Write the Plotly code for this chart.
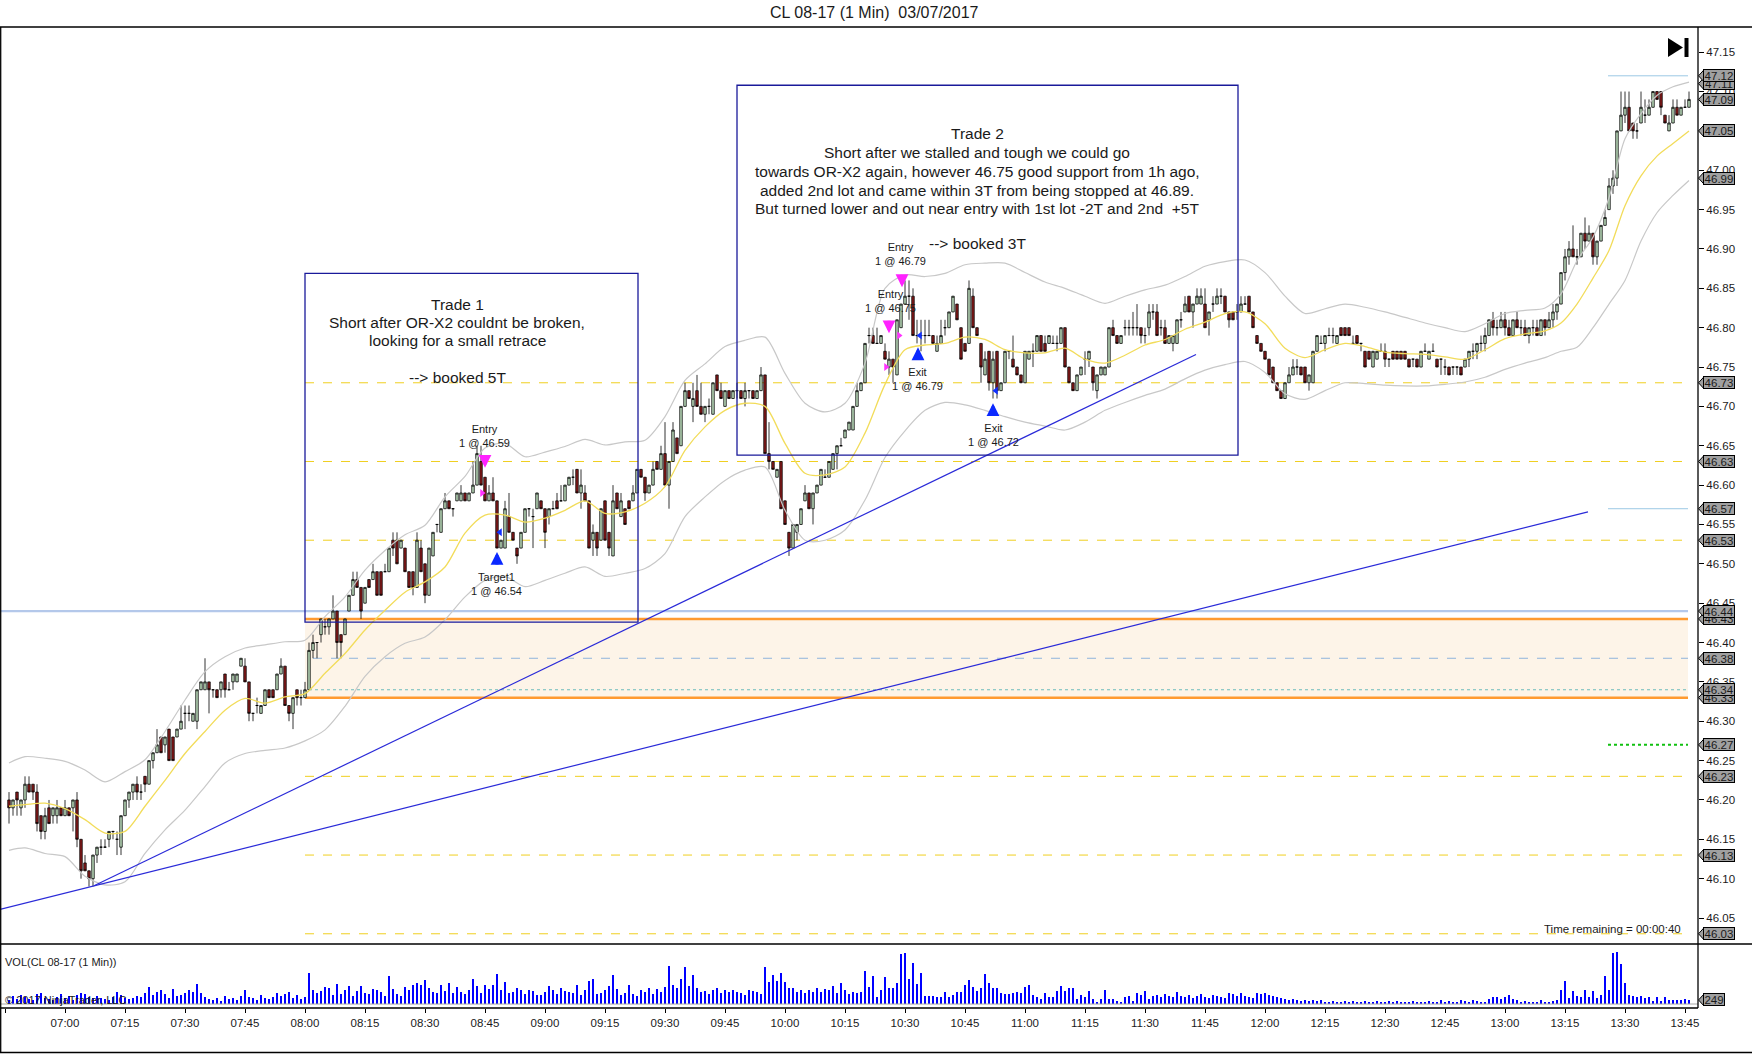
import pandas as pd
import plotly.graph_objects as go

W, H = 1752, 1054
day = "2017-03-07 "
font = "Liberation Sans, Arial, sans-serif"

# 1 min bars from 06:46, values in cents above 46.00
opens = [
    20, 19, 21, 19, 20, 22, 22, 21, 18, 16,   # 06:46
    19, 18, 18, 19, 18, 19, 19, 20, 15, 12,   # 06:56
    11, 10, 13, 14, 14, 15, 16, 15, 14, 18,   # 07:06
    20, 21, 22, 21, 23, 22, 25, 26, 28, 27,   # 07:16
    29, 28, 28, 29, 31, 31, 30, 30, 34, 34,   # 07:26
    35, 34, 34, 34, 36, 34, 35, 35, 37, 37,   # 07:36
    35, 31, 32, 31, 32, 34, 34, 34, 36, 37,   # 07:46
    32, 31, 34, 33, 33, 34, 39, 40, 41, 42,   # 07:56
    42, 43, 44, 41, 41, 44, 46, 48, 47, 45,   # 08:06
    48, 48, 49, 49, 49, 49, 53, 53, 52, 52,   # 08:16
    49, 49, 47, 52, 50, 46, 51, 55, 54, 57,   # 08:26
    58, 57, 58, 58, 59, 58, 59, 60, 63, 61,   # 08:36
    58, 59, 58, 52, 52, 56, 54, 52, 52, 54,   # 08:46
    57, 56, 57, 58, 57, 56, 57, 58, 58, 58,   # 08:56
    60, 61, 62, 59, 59, 58, 53, 54, 53, 58,   # 09:06
    54, 51, 59, 56, 57, 58, 58, 59, 62, 61,   # 09:16
    59, 60, 63, 62, 64, 60, 63, 66, 65, 70,   # 09:26
    72, 70, 72, 70, 69, 70, 69, 74, 72, 70,   # 09:36
    72, 71, 72, 72, 71, 72, 72, 71, 72, 74,   # 09:46
    64, 63, 61, 63, 58, 54, 52, 54, 55, 58,   # 09:56
    59, 57, 59, 60, 61, 61, 62, 64, 65, 66,   # 10:06
    67, 67, 70, 72, 73, 79, 79, 78, 78, 77,   # 10:16
    75, 76, 74, 80, 83, 84, 84, 79, 79, 79,   # 10:26
    79, 79, 77, 78, 80, 80, 82, 83, 80, 78,   # 10:36
    78, 84, 80, 78, 74, 77, 73, 77, 72, 73,   # 10:46
    77, 76, 75, 74, 73, 76, 77, 77, 79, 78,   # 10:56
    78, 78, 78, 78, 80, 75, 73, 72, 74, 76,   # 11:06
    76, 75, 72, 74, 74, 75, 80, 79, 78, 80,   # 11:16
    80, 80, 80, 80, 79, 80, 82, 82, 80, 80,   # 11:26
    78, 78, 78, 81, 82, 84, 82, 83, 83, 83,   # 11:36
    81, 83, 83, 84, 84, 82, 82, 82, 82, 83,   # 11:46
    84, 82, 79, 78, 77, 76, 75, 73, 72, 71,   # 11:56
    73, 74, 75, 75, 75, 73, 73, 77, 78, 78,   # 12:06
    79, 79, 78, 80, 80, 80, 78, 79, 78, 77,   # 12:16
    77, 75, 76, 77, 77, 76, 77, 77, 77, 77,   # 12:26
    76, 76, 76, 75, 77, 76, 77, 76, 76, 75,   # 12:36
    75, 75, 75, 75, 75, 76, 77, 77, 78, 78,   # 12:46
    79, 81, 80, 80, 81, 80, 79, 81, 80, 80,   # 12:56
    79, 80, 80, 79, 81, 80, 81, 82, 83, 87,   # 13:06
    89, 90, 89, 89, 92, 91, 92, 89, 91, 93,   # 13:16
    95, 98, 99, 105, 107, 108, 106, 105, 106, 107,   # 13:26
    107, 108, 110, 110, 107, 105, 106, 108, 107, 108,  # 13:36
    108,                                       # 13:46
]
highs = [
    21, 20, 21, 20, 23, 23, 22, 22, 18, 19,
    20, 19, 20, 19, 20, 19, 20, 21, 15, 13,
    11, 13, 14, 15, 15, 16, 16, 16, 18, 20,
    21, 22, 23, 22, 23, 25, 26, 29, 28, 28,
    29, 28, 29, 32, 32, 32, 31, 34, 35, 38,
    35, 34, 34, 35, 36, 35, 36, 36, 38, 38,
    35, 31, 33, 32, 34, 34, 34, 36, 38, 37,
    32, 33, 34, 34, 35, 40, 41, 40, 43, 43,
    43, 46, 44, 41, 43, 46, 49, 49, 47, 47,
    48, 50, 49, 49, 50, 52, 54, 54, 53, 52,
    49, 49, 54, 53, 50, 52, 54, 55, 57, 59,
    58, 57, 59, 60, 59, 59, 63, 65, 65, 61,
    60, 61, 58, 53, 58, 59, 54, 52, 54, 57,
    57, 57, 59, 58, 57, 57, 58, 59, 60, 60,
    61, 62, 62, 62, 60, 58, 55, 54, 57, 58,
    54, 60, 59, 59, 57, 58, 60, 62, 62, 61,
    60, 63, 63, 65, 68, 63, 68, 66, 70, 73,
    72, 73, 74, 73, 70, 71, 73, 74, 73, 72,
    72, 72, 73, 72, 73, 72, 72, 72, 75, 74,
    68, 63, 62, 63, 58, 54, 55, 55, 57, 60,
    59, 59, 60, 62, 62, 63, 64, 65, 66, 67,
    68, 70, 73, 73, 78, 80, 80, 80, 79, 78,
    77, 76, 81, 83, 86, 86, 85, 81, 81, 81,
    81, 79, 79, 81, 81, 82, 84, 83, 80, 78,
    86, 85, 80, 78, 77, 77, 77, 77, 73, 77,
    77, 79, 75, 74, 77, 77, 78, 79, 79, 79,
    79, 79, 79, 80, 80, 75, 73, 74, 75, 77,
    77, 75, 74, 75, 75, 80, 81, 79, 79, 81,
    81, 82, 83, 80, 80, 83, 83, 83, 81, 81,
    79, 79, 81, 82, 84, 84, 83, 85, 85, 85,
    82, 84, 85, 85, 84, 82, 82, 83, 84, 84,
    84, 82, 79, 78, 77, 76, 75, 73, 72, 73,
    75, 76, 76, 75, 75, 74, 77, 79, 79, 79,
    80, 80, 79, 80, 80, 80, 79, 79, 78, 77,
    77, 77, 77, 78, 78, 76, 77, 77, 77, 77,
    76, 76, 76, 77, 78, 77, 78, 76, 76, 76,
    75, 75, 75, 75, 76, 77, 78, 78, 79, 80,
    81, 82, 81, 82, 82, 81, 81, 82, 81, 81,
    80, 81, 81, 81, 81, 82, 83, 83, 87, 90,
    91, 93, 90, 92, 94, 93, 92, 91, 93, 95,
    99, 100, 105, 110, 110, 110, 106, 106, 110, 109,
    109, 110, 110, 110, 107, 107, 109, 109, 108, 109,
    110,
]
lows = [
    17, 18, 18, 18, 19, 21, 20, 16, 15, 15,
    17, 17, 17, 18, 18, 18, 16, 14, 10, 11,
    9, 9, 12, 13, 14, 14, 15, 13, 13, 18,
    19, 20, 20, 20, 21, 22, 24, 26, 26, 26,
    25, 25, 28, 29, 29, 30, 30, 29, 34, 34,
    31, 33, 33, 33, 33, 34, 34, 35, 37, 35,
    30, 30, 31, 31, 32, 33, 33, 34, 36, 32,
    30, 29, 32, 32, 33, 34, 38, 38, 40, 41,
    41, 43, 38, 38, 41, 44, 46, 47, 43, 45,
    47, 48, 46, 46, 49, 49, 51, 50, 52, 49,
    47, 46, 47, 49, 45, 46, 51, 54, 54, 57,
    57, 56, 58, 58, 58, 58, 59, 60, 60, 58,
    58, 58, 52, 52, 52, 54, 53, 50, 52, 54,
    56, 52, 57, 57, 52, 55, 57, 57, 58, 58,
    60, 60, 59, 57, 58, 52, 51, 51, 53, 53,
    51, 51, 57, 56, 55, 57, 58, 59, 61, 58,
    59, 60, 62, 62, 60, 57, 63, 64, 65, 70,
    71, 68, 70, 69, 68, 69, 69, 72, 71, 70,
    71, 71, 71, 71, 70, 71, 71, 71, 72, 64,
    62, 62, 61, 57, 55, 51, 52, 53, 55, 58,
    57, 55, 59, 60, 61, 61, 62, 62, 65, 66,
    67, 67, 70, 72, 73, 78, 78, 78, 78, 76,
    74, 73, 74, 80, 83, 81, 79, 78, 77, 78,
    79, 78, 77, 78, 79, 80, 82, 81, 76, 77,
    78, 80, 79, 73, 74, 72, 71, 71, 72, 73,
    76, 75, 74, 73, 73, 76, 75, 77, 77, 77,
    78, 78, 77, 78, 75, 73, 72, 72, 74, 74,
    75, 72, 71, 74, 74, 75, 79, 78, 78, 79,
    79, 79, 79, 78, 78, 79, 81, 79, 79, 78,
    78, 77, 78, 80, 82, 82, 80, 83, 83, 80,
    79, 82, 83, 83, 82, 80, 81, 81, 82, 83,
    82, 80, 78, 77, 76, 74, 73, 72, 71, 71,
    73, 74, 74, 74, 73, 72, 73, 77, 78, 77,
    79, 78, 78, 79, 79, 79, 78, 78, 77, 75,
    76, 75, 76, 77, 75, 75, 76, 76, 76, 76,
    75, 75, 75, 75, 77, 76, 77, 75, 74, 74,
    74, 74, 74, 74, 75, 75, 76, 76, 77, 77,
    79, 79, 79, 80, 79, 79, 79, 80, 79, 79,
    78, 79, 79, 79, 79, 80, 80, 81, 83, 86,
    88, 89, 88, 89, 90, 91, 88, 88, 91, 93,
    95, 97, 98, 105, 106, 105, 104, 104, 106, 106,
    107, 108, 109, 107, 106, 105, 106, 107, 107, 108,
    108,
]
closes = [
    19, 20, 20, 20, 22, 21, 21, 17, 16, 18,
    17, 19, 19, 18, 19, 18, 20, 15, 11, 11,
    10, 13, 14, 14, 14, 16, 16, 15, 18, 20,
    21, 22, 21, 21, 22, 25, 26, 27, 26, 28,
    25, 25, 29, 30, 31, 31, 31, 34, 35, 35,
    34, 34, 33, 35, 34, 34, 36, 36, 38, 35,
    31, 31, 32, 32, 34, 33, 33, 36, 37, 32,
    31, 33, 33, 33, 34, 39, 40, 40, 43, 42,
    43, 44, 40, 40, 43, 46, 48, 47, 44, 47,
    47, 49, 46, 46, 49, 52, 52, 50, 53, 49,
    47, 47, 53, 49, 46, 52, 54, 55, 57, 58,
    57, 57, 59, 59, 58, 59, 60, 64, 60, 58,
    59, 58, 52, 53, 57, 54, 53, 51, 54, 57,
    57, 56, 59, 57, 54, 57, 57, 57, 58, 60,
    61, 61, 59, 60, 58, 52, 54, 52, 57, 53,
    52, 58, 57, 58, 55, 57, 59, 62, 61, 59,
    60, 62, 62, 64, 60, 63, 67, 64, 70, 72,
    71, 71, 70, 69, 70, 70, 73, 72, 71, 72,
    71, 72, 72, 71, 72, 72, 71, 72, 74, 64,
    63, 62, 62, 57, 55, 52, 55, 55, 57, 59,
    57, 59, 60, 62, 61, 63, 64, 65, 65, 67,
    68, 70, 72, 73, 78, 79, 78, 78, 79, 76,
    76, 75, 81, 83, 84, 84, 79, 79, 79, 79,
    79, 78, 78, 79, 80, 82, 84, 81, 76, 77,
    85, 80, 79, 75, 76, 73, 76, 72, 73, 77,
    77, 75, 74, 73, 77, 77, 77, 79, 77, 77,
    79, 78, 78, 80, 75, 73, 72, 74, 75, 76,
    77, 73, 74, 75, 75, 80, 79, 78, 79, 80,
    80, 80, 80, 79, 79, 82, 82, 79, 80, 78,
    79, 79, 81, 81, 83, 82, 83, 84, 84, 80,
    82, 83, 84, 84, 82, 81, 81, 82, 83, 83,
    82, 80, 78, 77, 76, 74, 73, 72, 71, 73,
    74, 75, 75, 74, 73, 74, 77, 79, 78, 79,
    79, 79, 79, 79, 79, 79, 78, 78, 78, 75,
    76, 77, 77, 77, 76, 76, 76, 76, 76, 76,
    75, 76, 75, 77, 77, 77, 77, 75, 76, 75,
    74, 75, 75, 74, 76, 77, 77, 78, 78, 79,
    81, 80, 80, 81, 80, 79, 81, 80, 80, 79,
    80, 80, 79, 81, 80, 81, 82, 83, 87, 89,
    90, 89, 89, 92, 91, 92, 89, 91, 93, 94,
    98, 99, 105, 107, 108, 105, 105, 105, 108, 107,
    108, 110, 109, 108, 106, 106, 108, 107, 108, 108,
    109,
]
volumes = [
    250, 500, 310, 560, 430, 300, 250, 620, 680, 370,
    310, 250, 430, 620, 370, 500, 250, 560, 680, 620,
    430, 370, 500, 370, 310, 250, 430, 740, 560, 370,
    310, 370, 500, 430, 680, 1050, 560, 740, 870, 620,
    370, 930, 500, 560, 680, 870, 740, 1240, 680, 430,
    310, 250, 370, 190, 500, 310, 370, 250, 500, 870,
    430, 370, 250, 560, 370, 310, 430, 680, 500, 620,
    740, 370, 560, 310, 430, 1950, 870, 680, 810, 1060,
    990, 560, 1240, 620, 870, 1120, 500, 810, 1120, 680,
    620, 930, 870, 740, 500, 1760, 930, 620, 500, 1060,
    870, 1180, 1300, 1180, 1490, 990, 740, 680, 1180, 810,
    1300, 680, 1060, 740, 620, 870, 1550, 1120, 680, 1180,
    930, 1180, 1860, 870, 1360, 680, 740, 990, 870, 620,
    870, 810, 560, 560, 740, 1120, 870, 620, 990, 810,
    740, 680, 1180, 560, 870, 1430, 1550, 620, 680, 870,
    1120, 1780, 930, 560, 680, 1180, 620, 500, 870, 740,
    990, 620, 930, 740, 1060, 2360, 1180, 990, 1550, 2290,
    1120, 1790, 990, 740, 810, 620, 870, 990, 680, 870,
    740, 870, 740, 680, 560, 870, 810, 740, 620, 2290,
    1340, 1820, 1450, 1920, 1340, 970, 970, 720, 870, 680,
    870, 740, 990, 740, 930, 870, 1120, 680, 1310, 870,
    620, 740, 680, 740, 2050, 1050, 1740, 430, 870, 1670,
    990, 990, 1300, 3100, 3160, 1550, 2540, 1240, 1920, 500,
    500, 500, 430, 430, 740, 430, 560, 740, 740, 1180,
    1490, 1050, 830, 1010, 1860, 1300, 990, 990, 680, 620,
    620, 680, 740, 680, 1070, 1180, 560, 430, 310, 680,
    430, 430, 810, 1120, 810, 990, 990, 330, 560, 430,
    810, 330, 120, 330, 870, 330, 290, 160, 120, 430,
    500, 200, 680, 560, 810, 330, 500, 560, 430, 620,
    500, 430, 740, 500, 430, 560, 370, 500, 620, 430,
    370, 560, 500, 430, 370, 680, 620, 500, 680, 500,
    430, 370, 680, 620, 680, 560, 500, 430, 370, 310,
    250, 310, 250, 190, 250, 190, 250, 190, 250, 120,
    120, 190, 120, 120, 190, 120, 190, 120, 120, 190,
    120, 120, 190, 120, 120, 190, 120, 190, 120, 120,
    120, 190, 120, 120, 120, 190, 120, 120, 250, 120,
    190, 120, 120, 250, 190, 120, 250, 190, 120, 120,
    310, 430, 430, 310, 430, 560, 310, 250, 120, 190,
    120, 120, 120, 250, 120, 120, 190, 250, 870, 1430,
    370, 800, 500, 430, 870, 430, 800, 370, 560, 1740,
    870, 3160, 3220, 2480, 1300, 560, 500, 430, 500, 370,
    430, 190, 430, 190, 430, 250, 250, 250, 250, 310,
    249,
]

# channel (cents above 46.00)
band_times = [
    "06:46", "06:50", "06:55", "07:00", "07:05", "07:10", "07:15", "07:20", "07:25", "07:30",
    "07:35", "07:40", "07:45", "07:50", "07:55", "08:00", "08:05", "08:10", "08:15", "08:20",
    "08:25", "08:30", "08:35", "08:40", "08:45", "08:50", "08:55", "09:00", "09:05", "09:10",
    "09:15", "09:20", "09:25", "09:30", "09:35", "09:40", "09:45", "09:50", "09:55", "10:00",
    "10:05", "10:10", "10:15", "10:20", "10:25", "10:30", "10:35", "10:40", "10:45", "10:50",
    "10:55", "11:00", "11:05", "11:10", "11:15", "11:20", "11:25", "11:30", "11:35", "11:40",
    "11:45", "11:50", "11:55", "12:00", "12:05", "12:10", "12:15", "12:20", "12:25", "12:30",
    "12:35", "12:40", "12:45", "12:50", "12:55", "13:00", "13:05", "13:10", "13:14", "13:18",
    "13:22", "13:26", "13:30", "13:34", "13:38", "13:42", "13:46",
]
band_upper = [
    24.7, 25.5, 25.3, 24.9, 23.8, 22.3, 23.6, 25.1, 28.7, 32.7,
    36.3, 38.2, 39.3, 39.7, 40.1, 40.3, 43.3, 45.8, 49.2, 51.7,
    53.7, 54.9, 58.5, 61.1, 64.7, 65.3, 63.6, 64.2, 64.9, 65.8,
    65.1, 65.5, 65.7, 68.7, 73.3, 75.4, 77.6, 78.4, 78.8, 74.2,
    70.4, 69.3, 70.4, 75.5, 85.0, 86.7, 86.5, 86.9, 88.0, 88.2,
    88.2, 87.0, 85.8, 85.0, 84.0, 83.1, 84.0, 84.8, 85.4, 86.5,
    87.8, 88.4, 88.6, 87.0, 84.0, 81.8, 82.4, 83.0, 82.6, 82.0,
    81.3, 80.6, 80.0, 79.5, 80.5, 81.8, 82.2, 82.5, 84.3, 88.5,
    91.5, 96.5, 104.0, 107.2, 109.5, 110.6, 111.2,
]
band_mid = [
    19.2, 19.4, 19.6, 18.9, 17.5, 15.8, 16.0, 19.2, 22.5, 25.9,
    28.7, 31.4, 32.9, 32.3, 33.1, 33.5, 36.1, 38.6, 41.6, 44.1,
    46.4, 47.7, 49.6, 53.9, 56.2, 56.2, 55.3, 55.8, 56.8, 58.0,
    56.4, 56.6, 57.7, 59.8, 64.4, 67.4, 69.5, 70.4, 70.0, 65.3,
    61.5, 61.3, 62.3, 66.6, 72.8, 77.2, 77.8, 78.0, 78.8, 78.5,
    77.2, 76.8, 76.8, 77.4, 76.0, 75.5, 76.5, 77.8, 78.5, 79.8,
    80.7, 81.8, 82.0, 80.5, 77.4, 76.2, 77.2, 78.0, 77.6, 76.9,
    76.7, 76.6, 76.3, 76.0, 77.2, 78.6, 79.2, 79.6, 80.6, 83.0,
    86.3, 89.8, 95.5, 99.3, 101.8, 103.4, 105.0,
]
band_lower = [
    13.6, 13.9, 13.2, 12.8, 10.3, 9.2, 9.6, 13.2, 16.2, 18.7,
    21.7, 24.7, 25.9, 26.3, 26.6, 27.5, 28.9, 31.9, 35.7, 38.2,
    39.9, 40.7, 42.9, 45.8, 47.9, 48.4, 47.1, 47.9, 48.8, 49.6,
    48.4, 48.8, 49.4, 51.3, 56.0, 58.5, 60.6, 61.9, 62.3, 56.8,
    53.0, 53.0, 54.3, 58.1, 63.5, 66.9, 69.5, 70.5, 70.2, 69.5,
    68.7, 68.0, 67.5, 67.0, 68.0, 69.5, 70.5, 71.4, 72.2, 73.5,
    74.6, 75.3, 75.7, 74.3, 71.6, 70.9, 72.0, 73.0, 72.9, 72.7,
    72.6, 72.6, 72.8, 73.1, 73.7, 74.7, 75.5, 76.2, 77.0, 77.5,
    80.0, 83.0, 86.0, 91.0, 94.6, 96.8, 98.7,
]

# drawing objects
yellow_levels = [46.73, 46.63, 46.53, 46.23, 46.13, 46.03]
orange_levels = [46.43, 46.33]
blue_level = 46.44
dash_level = 46.38
dot_level = 46.34
short_blue_levels = [47.12, 46.57]
green_level = 46.27
price_tags = [47.11, 47.12, 47.09, 47.05, 46.99, 46.73, 46.63, 46.57, 46.53,
              46.43, 46.44, 46.38, 46.33, 46.34, 46.27, 46.23, 46.13, 46.03]
last_volume = 249

trend_a = (["07:07:15", "11:42:45"], [46.091, 46.766])
trend_b = (["06:43:45", "13:20:45"], [46.061, 46.566])
box1 = (["08:00:00", "09:23:15"], [46.426, 46.869])
box2 = (["09:48:00", "11:53:15"], [46.638, 47.108])

entry_times = ["08:45:00", "10:29:15", "10:26:00"]
entry_tips = [46.622, 46.8515, 46.793]
entry_fill_times = ["08:44:15", "10:28:30", "10:25:15"]
entry_fills = [46.59, 46.79, 46.75]
entry_label_times = ["08:44:45", "10:28:45", "10:26:15"]
entry_label_prices = [46.643, 46.874, 46.815]
entry_texts = ["Entry<br>1 @ 46.59", "Entry<br>1 @ 46.79", "Entry<br>1 @ 46.75"]

exit_times = ["08:48:00", "10:33:15", "10:52:00"]
exit_tips = [46.515, 46.775, 46.704]
exit_fill_times = ["08:48:45", "10:33:45", "10:52:45"]
exit_fills = [46.54, 46.79, 46.72]
exit_label_times = ["08:47:45", "10:33:00", "10:52:00"]
exit_label_prices = [46.493, 46.754, 46.683]
exit_texts = ["Target1<br>1 @ 46.54", "Exit<br>1 @ 46.79", "Exit<br>1 @ 46.72"]

trade1_lines = ["Trade 1", "Short after OR-X2 couldnt be broken,",
                "looking for a small retrace", "--&gt; booked 5T"]
trade1_rows = [304, 323, 341, 377]
trade2_lines = ["Trade 2", "Short after we stalled and tough we could go",
                "towards OR-X2 again, however 46.75 good support from 1h ago,",
                "added 2nd lot and came within 3T from being stopped at 46.89.",
                "But turned lower and out near entry with 1st lot -2T and 2nd&nbsp; +5T",
                "--&gt; booked 3T"]
trade2_rows = [133, 152, 171, 190, 208, 244]


def fx(x):
    return x / W


def fy(y):
    return 1 - y / H


def t(s):
    return day + s


def price(v):
    return [round(46 + c / 100, 4) for c in v]


times = pd.date_range(t("06:46"), periods=len(closes), freq="min")
t_left, t_right = t("06:43:45"), t("13:48:15")
t_lines_end = t("13:45:45")

fig = go.Figure()

fig.add_trace(go.Candlestick(
    x=times, open=price(opens), high=price(highs), low=price(lows), close=price(closes),
    increasing=dict(line=dict(color="black", width=0.8), fillcolor="#c2e4c2"),
    decreasing=dict(line=dict(color="black", width=0.8), fillcolor="#8b1a1a"),
    whiskerwidth=0, hoverinfo="skip", showlegend=False, xaxis="x", yaxis="y"))

bt = [t(s) for s in band_times]
for vals, col, wd in [(band_upper, "#c8c8c8", 1.2), (band_lower, "#c8c8c8", 1.2),
                      (band_mid, "#f2dc5a", 1.3)]:
    fig.add_trace(go.Scatter(x=bt, y=price(vals), mode="lines",
                             line=dict(color=col, width=wd, shape="spline", smoothing=0.8),
                             hoverinfo="skip", showlegend=False, yaxis="y"))

fig.add_trace(go.Scatter(
    x=[t(s) for s in entry_fill_times], y=entry_fills, mode="markers",
    marker=dict(symbol="triangle-right", size=7, color="#ff33ff"),
    hoverinfo="skip", showlegend=False, yaxis="y"))
fig.add_trace(go.Scatter(
    x=[t(s) for s in exit_fill_times], y=exit_fills, mode="markers",
    marker=dict(symbol="triangle-left", size=7, color="#1030ff"),
    hoverinfo="skip", showlegend=False, yaxis="y"))

fig.add_trace(go.Bar(x=times, y=volumes, width=30000, marker=dict(color="#0000ff", line=dict(width=0)),
                     hoverinfo="skip", showlegend=False, yaxis="y2"))

shapes = []
# zone between the orange lines
shapes.append(dict(type="rect", xref="x", yref="y", x0=t("08:00"), x1=t_lines_end,
                   y0=orange_levels[1], y1=orange_levels[0], fillcolor="#fdf4e8",
                   line=dict(width=0), layer="below"))
for lv in yellow_levels:
    shapes.append(dict(type="line", xref="x", yref="y", x0=t("08:00"), x1=t_lines_end, y0=lv, y1=lv,
                       line=dict(color="#f0cf20", width=1, dash="dash"), layer="below"))
shapes.append(dict(type="line", xref="x", yref="y", x0=t("08:02"), x1=t_lines_end, y0=dash_level, y1=dash_level,
                   line=dict(color="#90b4dc", width=1, dash="dash"), layer="below"))
shapes.append(dict(type="line", xref="x", yref="y", x0=t("08:01"), x1=t_lines_end, y0=dot_level, y1=dot_level,
                   line=dict(color="#6cbcbc", width=1, dash="dot"), layer="below"))
shapes.append(dict(type="line", xref="x", yref="y", x0=t_left, x1=t_lines_end, y0=blue_level, y1=blue_level,
                   line=dict(color="#b4c8ea", width=2.2), layer="below"))
for lv in orange_levels:
    shapes.append(dict(type="line", xref="x", yref="y", x0=t("08:00"), x1=t_lines_end, y0=lv, y1=lv,
                       line=dict(color="#ff9a30", width=2.5), layer="below"))
for lv in short_blue_levels:
    shapes.append(dict(type="line", xref="x", yref="y", x0=t("13:25:45"), x1=t_lines_end, y0=lv, y1=lv,
                       line=dict(color="#9cc8e4", width=1)))
shapes.append(dict(type="line", xref="x", yref="y", x0=t("13:25:45"), x1=t_lines_end, y0=green_level, y1=green_level,
                   line=dict(color="#10c010", width=2, dash="dot")))
shapes.append(dict(type="line", xref="x", yref="y2", x0=t_left, x1=t_right, y0=0, y1=0,
                   line=dict(color="#a8a8a8", width=1)))

for (xs, ys) in [trend_a, trend_b]:
    shapes.append(dict(type="line", xref="x", yref="y", x0=t(xs[0]), x1=t(xs[1]), y0=ys[0], y1=ys[1],
                       line=dict(color="#2a2ad8", width=1.2)))
for (xs, ys) in [box1, box2]:
    shapes.append(dict(type="rect", xref="x", yref="y", x0=t(xs[0]), x1=t(xs[1]), y0=ys[0], y1=ys[1],
                       line=dict(color="#1a1a9a", width=1.3), fillcolor="rgba(0,0,0,0)"))

# frame
frame = "#000000"
shapes += [
    dict(type="line", xref="paper", yref="paper", x0=0, x1=1, y0=fy(27), y1=fy(27), line=dict(color=frame, width=1.3)),
    dict(type="line", xref="paper", yref="paper", x0=0, x1=1, y0=fy(944), y1=fy(944), line=dict(color=frame, width=1.3)),
    dict(type="line", xref="paper", yref="paper", x0=0, x1=fx(1698), y0=fy(1008), y1=fy(1008), line=dict(color=frame, width=1.3)),
    dict(type="line", xref="paper", yref="paper", x0=0, x1=1, y0=fy(1052.5), y1=fy(1052.5), line=dict(color=frame, width=1.3)),
    dict(type="line", xref="paper", yref="paper", x0=fx(0.7), x1=fx(0.7), y0=fy(1052.5), y1=fy(27), line=dict(color=frame, width=1.3)),
    dict(type="line", xref="paper", yref="paper", x0=fx(1698), x1=fx(1698), y0=fy(1008), y1=fy(27), line=dict(color=frame, width=1.3)),
]
# go-to-end icon
shapes.append(dict(type="path", xref="paper", yref="paper",
                   path=f"M {fx(1668)},{fy(38)} L {fx(1683)},{fy(47.5)} L {fx(1668)},{fy(57)} Z",
                   fillcolor="black", line=dict(width=0)))
shapes.append(dict(type="rect", xref="paper", yref="paper", x0=fx(1684.5), x1=fx(1688.5), y0=fy(57), y1=fy(38),
                   fillcolor="black", line=dict(width=0)))

annotations = []
label_font = dict(family=font, size=11, color="#1a1a1a")
for i in range(len(entry_times)):
    annotations.append(dict(x=t(entry_times[i]), y=entry_tips[i], xref="x", yref="y", text="", showarrow=True,
                            ax=0, ay=-14, arrowhead=2, arrowsize=0.8, arrowwidth=3.2, arrowcolor="#ff22ff"))
    annotations.append(dict(x=t(entry_label_times[i]), y=entry_label_prices[i], xref="x", yref="y",
                            text=entry_texts[i], showarrow=False, xanchor="center", yanchor="bottom",
                            font=label_font))
for i in range(len(exit_times)):
    annotations.append(dict(x=t(exit_times[i]), y=exit_tips[i], xref="x", yref="y", text="", showarrow=True,
                            ax=0, ay=14, arrowhead=2, arrowsize=0.8, arrowwidth=3.2, arrowcolor="#0a28ff"))
    annotations.append(dict(x=t(exit_label_times[i]), y=exit_label_prices[i], xref="x", yref="y",
                            text=exit_texts[i], showarrow=False, xanchor="center", yanchor="top",
                            font=label_font))

box_font = dict(family=font, size=15.5, color="#1a1a1a")
for txt, row in zip(trade1_lines, trade1_rows):
    annotations.append(dict(x=fx(457), y=fy(row), xref="paper", yref="paper", text=txt,
                            showarrow=False, xanchor="center", yanchor="middle", font=box_font))
for txt, row in zip(trade2_lines, trade2_rows):
    annotations.append(dict(x=fx(977), y=fy(row), xref="paper", yref="paper", text=txt,
                            showarrow=False, xanchor="center", yanchor="middle", font=box_font))

tag_font = dict(family=font, size=11.5, color="#1a1a1a")
dp = 6 / 787.3
for p in price_tags:
    shapes.append(dict(type="path", xref="paper", yref="y",
                       path=f"M {fx(1698.5)},{p} L {fx(1704)},{p + dp} L {fx(1704)},{p - dp} Z",
                       fillcolor="#a0a0a0", line=dict(color="black", width=1)))
    annotations.append(dict(x=fx(1703), y=p, xref="paper", yref="y", text=f"{p:.2f}", showarrow=False,
                            xanchor="left", yanchor="middle", width=30, height=11, bgcolor="#a0a0a0",
                            bordercolor="black", borderwidth=1, borderpad=0, font=tag_font))
annotations.append(dict(x=fx(1703), y=last_volume, xref="paper", yref="y2", text=str(last_volume), showarrow=False,
                        xanchor="left", yanchor="middle", width=20, height=11, bgcolor="#a0a0a0",
                        bordercolor="black", borderwidth=1, borderpad=0, font=tag_font))
shapes.append(dict(type="path", xref="paper", yref="y2",
                   path=f"M {fx(1698.5)},{last_volume} L {fx(1704)},{last_volume + 370} L {fx(1704)},{last_volume - 370} Z",
                   fillcolor="#a0a0a0", line=dict(color="black", width=1)))

annotations += [
    dict(x=fx(874), y=fy(13), xref="paper", yref="paper", text="CL 08-17 (1 Min)&nbsp; 03/07/2017",
         showarrow=False, xanchor="center", yanchor="middle", font=dict(family=font, size=16, color="#1a1a1a")),
    dict(x=fx(1683), y=fy(929), xref="paper", yref="paper", text="Time remaining = 00:00:40",
         showarrow=False, xanchor="right", yanchor="middle", font=dict(family=font, size=11.5, color="#1a1a1a")),
    dict(x=fx(3), y=fy(962), xref="paper", yref="paper", text="VOL(CL 08-17 (1 Min))",
         showarrow=False, xanchor="left", yanchor="middle", font=dict(family=font, size=11, color="#1a1a1a")),
    dict(x=fx(3), y=fy(1000), xref="paper", yref="paper", text="© 2017 NinjaTrader, LLC",
         showarrow=False, xanchor="left", yanchor="middle", font=dict(family=font, size=11, color="#1a1a1a")),
]

fig.update_layout(
    width=W, height=H, margin=dict(l=0, r=0, t=0, b=0),
    paper_bgcolor="white", plot_bgcolor="white", showlegend=False,
    font=dict(family=font, size=11, color="#1a1a1a"),
    xaxis=dict(type="date", range=[t_left, t_right], domain=[0, fx(1698)], anchor="y2",
               showgrid=False, zeroline=False, showline=False, ticks="outside", ticklen=4,
               tickcolor="black", tick0=t("07:00"), dtick=15 * 60 * 1000, tickformat="%H:%M",
               tickfont=dict(family=font, size=11.5, color="#1a1a1a"), rangeslider=dict(visible=False)),
    yaxis=dict(domain=[fy(944), fy(27)], range=[46.017, 47.182], side="right", anchor="x",
               showgrid=False, zeroline=False, showline=False, ticks="outside", ticklen=5,
               tickcolor="black", tick0=46.0, dtick=0.05, tickformat=".2f",
               tickfont=dict(family=font, size=11.5, color="#1a1a1a")),
    yaxis2=dict(domain=[fy(1008), fy(944)], range=[-248, 3720], side="right", anchor="x",
                showgrid=False, zeroline=False, showline=False, showticklabels=False, ticks=""),
    bargap=0, boxgap=0.12, shapes=shapes, annotations=annotations,
)

fig.write_html("out.html", config={"displayModeBar": False},
               post_script="document.body.style.margin='0px';")
